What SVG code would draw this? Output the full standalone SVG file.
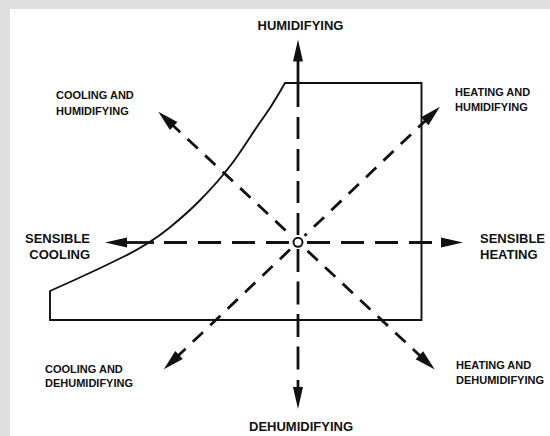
<svg xmlns="http://www.w3.org/2000/svg" width="550" height="436" viewBox="0 0 550 436">
  <defs>
    <style>
      .lbl { font-family: "Liberation Sans", Arial, sans-serif; font-weight: bold; fill: #111; }
      .big { font-size: 13px; }
      .small { font-size: 11px; }
      .outline { fill: none; stroke: #111; stroke-width: 1.9; stroke-linejoin: miter; }
      .axis { fill: none; stroke: #111; stroke-width: 2.8; }
      .diag { fill: none; stroke: #111; stroke-width: 2.8; stroke-dasharray: 14 10; }
      .solid { fill: none; stroke: #111; stroke-width: 2.8; }
      .head { fill: #111; }
    </style>
    <path id="ahead" class="head" d="M0,0 L-22,-5 L-22,5 Z"/>
    <path id="dhead" class="head" d="M0,0 L-21,-5.5 L-21,5.5 Z"/>
  </defs>

  <rect x="0" y="0" width="550" height="436" fill="#dedede"/>
  <rect x="10" y="9" width="540" height="427" fill="#ffffff"/>

  <g id="chart-region">
    <path class="outline" d="M50,291 L75,279.75 Q100,268.5 125,256 Q150,243.5 168.5,228.5 Q187,213.5 200,200.25 Q213,187 222.5,175.5 Q232,164 238.5,154.5 Q245,145 251.5,135 Q258,125 264.5,116 Q271,107 278,95 L285,83 L421.5,83 L421.5,320 L50,320 Z"/>
  </g>

  <g id="connectors">
    <g id="arrow-up">
      <line class="solid" x1="298" y1="58" x2="298" y2="107"/>
      <line class="axis" x1="298" y1="235" x2="298" y2="108" stroke-dasharray="22 10"/>
      <use href="#ahead" transform="translate(298,39.5) rotate(-90)"/>
    </g>
    <g id="arrow-down">
      <line class="axis" x1="298" y1="249" x2="298" y2="372" stroke-dasharray="23 9.5"/>
      <line class="solid" x1="298" y1="380" x2="298" y2="392"/>
      <use href="#ahead" transform="translate(298,409) rotate(90)"/>
    </g>
    <g id="arrow-left">
      <line class="axis" x1="289" y1="242.5" x2="157" y2="242.5" stroke-dasharray="23 11"/>
      <line class="solid" x1="124" y1="242.5" x2="154" y2="242.5"/>
      <use href="#ahead" transform="translate(105,242.5) rotate(180)"/>
    </g>
    <g id="arrow-right">
      <line class="axis" x1="307" y1="242.5" x2="434" y2="242.5" stroke-dasharray="23 11"/>
      <use href="#ahead" transform="translate(463,242.5)"/>
    </g>
    <g id="arrow-cool-hum" transform="translate(298,242) rotate(-137)">
      <line class="diag" x1="151" y1="0" x2="9" y2="0"/>
      <line class="solid" x1="161" y1="0" x2="172" y2="0"/>
      <use href="#dhead" transform="translate(191,0)"/>
    </g>
    <g id="arrow-heat-hum" transform="translate(298,242) rotate(-43.6)">
      <line class="diag" x1="156" y1="0" x2="9" y2="0"/>
      <line class="solid" x1="166" y1="0" x2="177" y2="0"/>
      <use href="#dhead" transform="translate(196,0)"/>
    </g>
    <g id="arrow-cool-dehum" transform="translate(298,242) rotate(136.5)">
      <line class="diag" x1="145" y1="0" x2="9" y2="0"/>
      <line class="solid" x1="155" y1="0" x2="166" y2="0"/>
      <use href="#dhead" transform="translate(185,0)"/>
    </g>
    <g id="arrow-heat-dehum" transform="translate(298,242) rotate(43)">
      <line class="diag" x1="147" y1="0" x2="9" y2="0"/>
      <line class="solid" x1="157" y1="0" x2="168" y2="0"/>
      <use href="#dhead" transform="translate(187,0)"/>
    </g>
  </g>

  <g id="state-point">
    <circle cx="298" cy="242.3" r="4.5" fill="#ffffff" stroke="#111" stroke-width="2"/>
  </g>

  <g id="label-humidifying">
    <text class="lbl big" x="300.5" y="30" text-anchor="middle">HUMIDIFYING</text>
  </g>
  <g id="label-dehumidifying">
    <text class="lbl big" x="301" y="431" text-anchor="middle">DEHUMIDIFYING</text>
  </g>
  <g id="label-sensible-cooling">
    <text class="lbl big" x="90" y="242.5" text-anchor="end">SENSIBLE</text>
    <text class="lbl big" x="90" y="259" text-anchor="end">COOLING</text>
  </g>
  <g id="label-sensible-heating">
    <text class="lbl big" x="480" y="242.5">SENSIBLE</text>
    <text class="lbl big" x="480" y="259">HEATING</text>
  </g>
  <g id="label-cooling-humidifying">
    <text class="lbl small" x="56" y="99">COOLING AND</text>
    <text class="lbl small" x="56" y="115">HUMIDIFYING</text>
  </g>
  <g id="label-heating-humidifying">
    <text class="lbl small" x="455" y="96">HEATING AND</text>
    <text class="lbl small" x="455" y="110.5">HUMIDIFYING</text>
  </g>
  <g id="label-cooling-dehumidifying">
    <text class="lbl small" x="45" y="373">COOLING AND</text>
    <text class="lbl small" x="45" y="387">DEHUMIDIFYING</text>
  </g>
  <g id="label-heating-dehumidifying">
    <text class="lbl small" x="456" y="368.5">HEATING AND</text>
    <text class="lbl small" x="456" y="383.5">DEHUMIDIFYING</text>
  </g>
</svg>
